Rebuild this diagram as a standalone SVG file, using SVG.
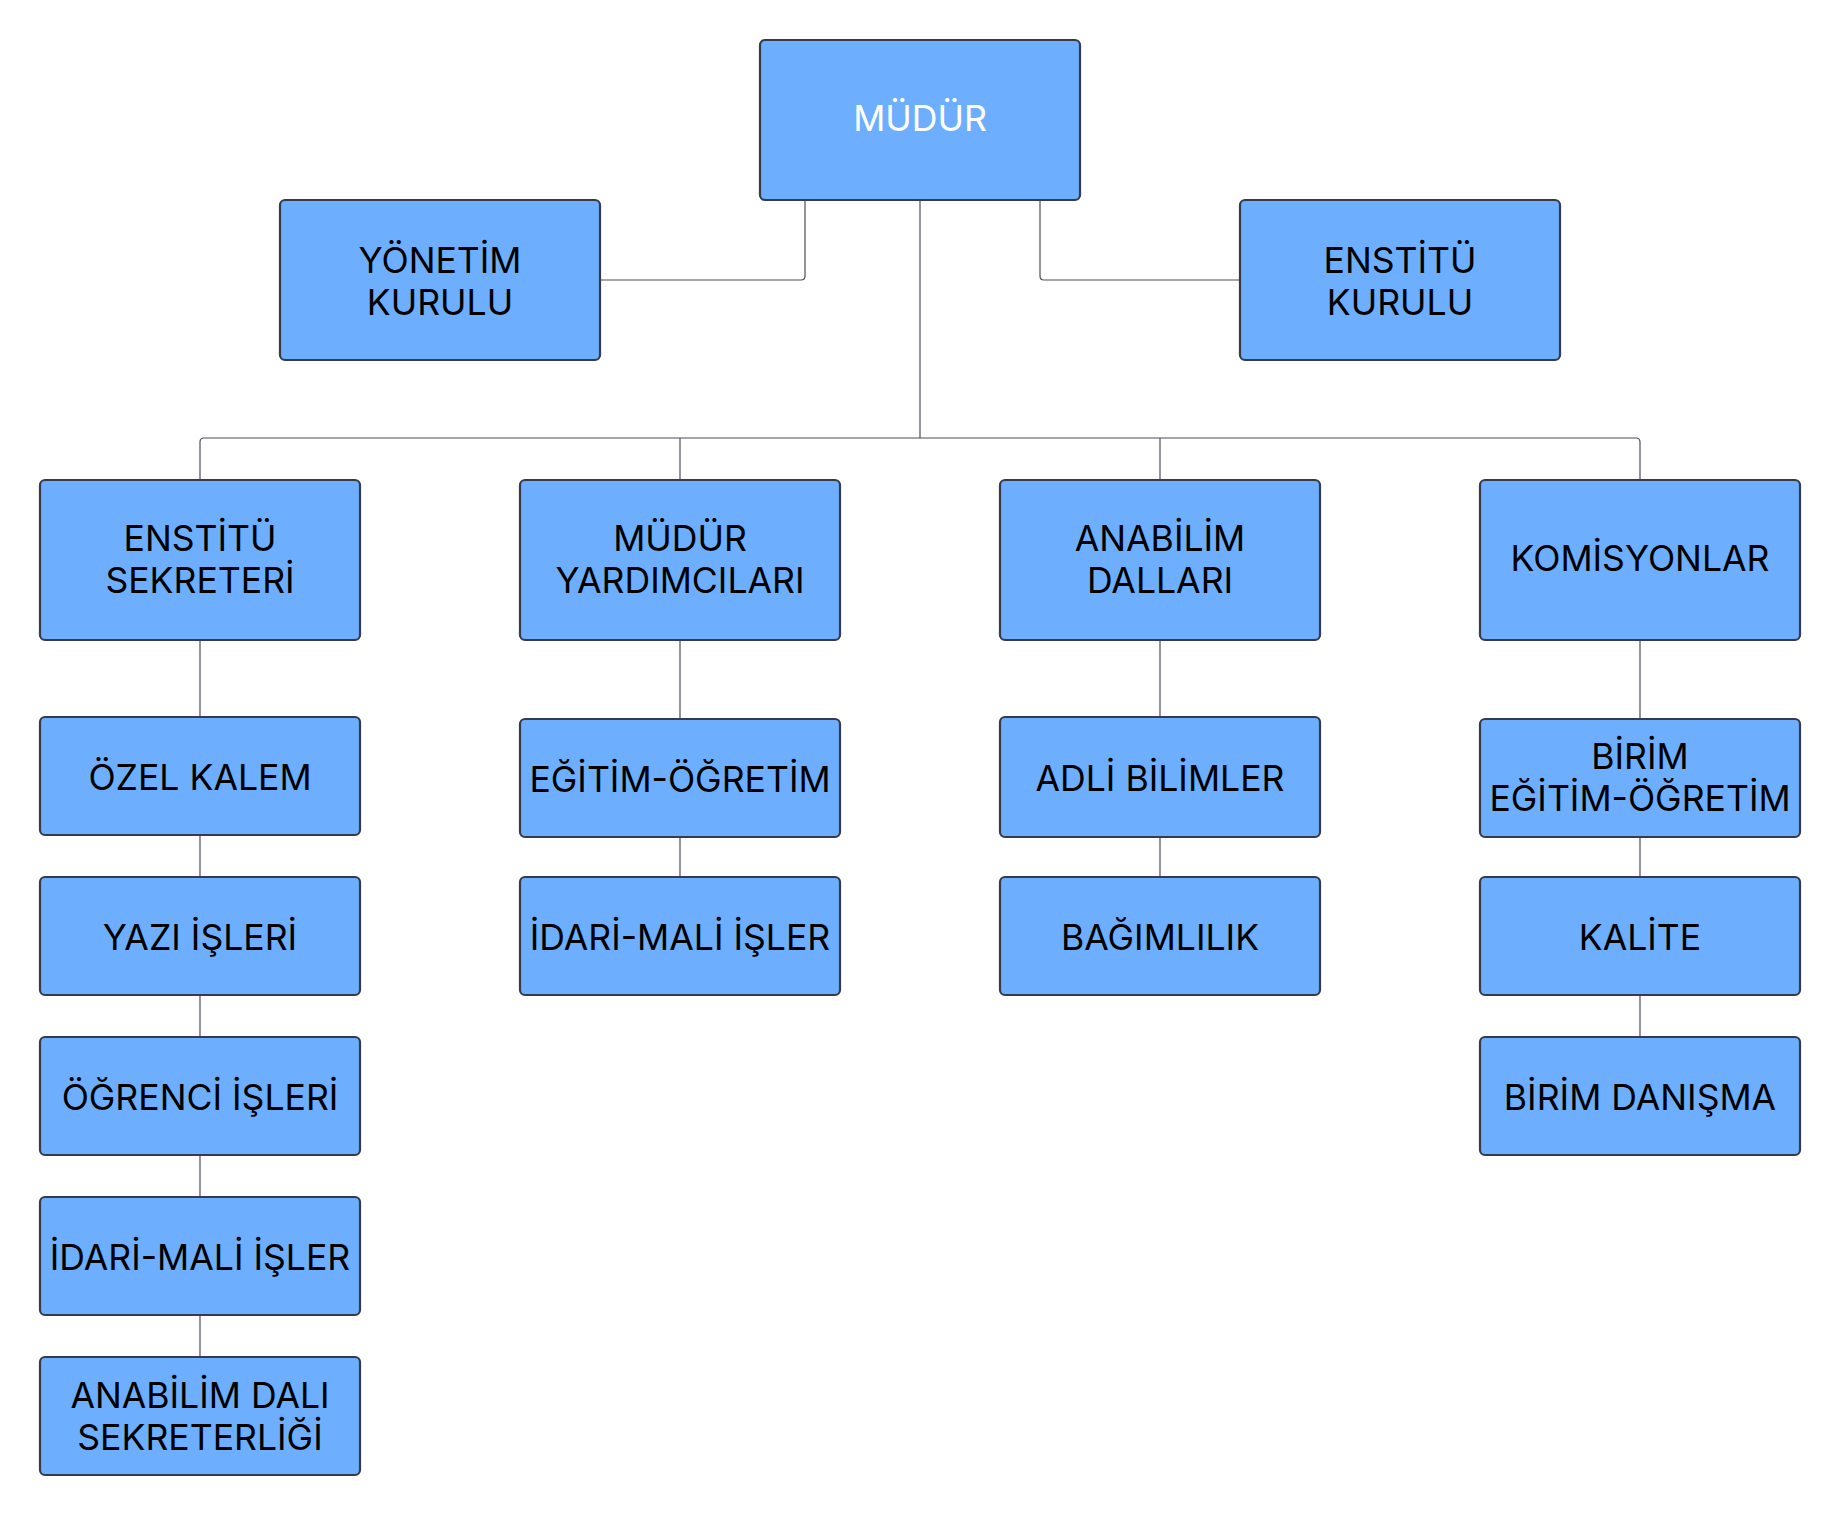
<svg xmlns="http://www.w3.org/2000/svg" width="1840" height="1515" viewBox="0 0 1840 1515">
<style>
.box{fill:#6DAFFE;stroke:#353B48;stroke-width:2.2}
.t{font-family:Inter,"Liberation Sans",sans-serif;font-size:35.6px;fill:#000;text-anchor:middle}
.w{fill:#FFFFFF}
.c{fill:none;stroke:#4A4F58;stroke-width:1.2}
</style>
<rect width="1840" height="1515" fill="#FFFFFF"/>
<g id="connectors">
<path class="c" d="M805 200V276Q805 280 801 280H600"/>
<path class="c" d="M1040 200V276Q1040 280 1044 280H1240"/>
<path class="c" d="M920 200V438"/>
<path class="c" d="M200 480V442Q200 438 204 438H1636Q1640 438 1640 442V480"/>
<path class="c" d="M680 438V480"/>
<path class="c" d="M1160 438V480"/>
<path class="c" d="M200 640V717M200 835V877M200 995V1037M200 1155V1197M200 1315V1357"/>
<path class="c" d="M680 640V719M680 837V877"/>
<path class="c" d="M1160 640V717M1160 837V877"/>
<path class="c" d="M1640 640V719M1640 837V877M1640 995V1037"/>
</g>
<g id="mudur"><rect class="box" x="760" y="40" width="320" height="160" rx="5"/><text class="t w" x="920" y="131">MÜDÜR</text></g>
<g id="yonetim-kurulu"><rect class="box" x="280" y="200" width="320" height="160" rx="5"/><text class="t" x="440" y="273">YÖNETİM</text><text class="t" x="440" y="315">KURULU</text></g>
<g id="enstitu-kurulu"><rect class="box" x="1240" y="200" width="320" height="160" rx="5"/><text class="t" x="1400" y="273">ENSTİTÜ</text><text class="t" x="1400" y="315">KURULU</text></g>
<g id="enstitu-sekreteri"><rect class="box" x="40" y="480" width="320" height="160" rx="5"/><text class="t" x="200" y="551">ENSTİTÜ</text><text class="t" x="200" y="593">SEKRETERİ</text></g>
<g id="mudur-yardimcilari"><rect class="box" x="520" y="480" width="320" height="160" rx="5"/><text class="t" x="680" y="551">MÜDÜR</text><text class="t" x="680" y="593">YARDIMCILARI</text></g>
<g id="anabilim-dallari"><rect class="box" x="1000" y="480" width="320" height="160" rx="5"/><text class="t" x="1160" y="551">ANABİLİM</text><text class="t" x="1160" y="593">DALLARI</text></g>
<g id="komisyonlar"><rect class="box" x="1480" y="480" width="320" height="160" rx="5"/><text class="t" x="1640" y="571">KOMİSYONLAR</text></g>
<g id="ozel-kalem"><rect class="box" x="40" y="717" width="320" height="118" rx="5"/><text class="t" x="200" y="790">ÖZEL KALEM</text></g>
<g id="yazi-isleri"><rect class="box" x="40" y="877" width="320" height="118" rx="5"/><text class="t" x="200" y="950">YAZI İŞLERİ</text></g>
<g id="ogrenci-isleri"><rect class="box" x="40" y="1037" width="320" height="118" rx="5"/><text class="t" x="200" y="1110">ÖĞRENCİ İŞLERİ</text></g>
<g id="idari-mali-1"><rect class="box" x="40" y="1197" width="320" height="118" rx="5"/><text class="t" x="200" y="1270">İDARİ-MALİ İŞLER</text></g>
<g id="anabilim-dali-sekreterligi"><rect class="box" x="40" y="1357" width="320" height="118" rx="5"/><text class="t" x="200" y="1408">ANABİLİM DALI</text><text class="t" x="200" y="1450">SEKRETERLİĞİ</text></g>
<g id="egitim-ogretim"><rect class="box" x="520" y="719" width="320" height="118" rx="5"/><text class="t" x="680" y="792">EĞİTİM-ÖĞRETİM</text></g>
<g id="idari-mali-2"><rect class="box" x="520" y="877" width="320" height="118" rx="5"/><text class="t" x="680" y="950">İDARİ-MALİ İŞLER</text></g>
<g id="adli-bilimler"><rect class="box" x="1000" y="717" width="320" height="120" rx="5"/><text class="t" x="1160" y="791">ADLİ BİLİMLER</text></g>
<g id="bagimlilik"><rect class="box" x="1000" y="877" width="320" height="118" rx="5"/><text class="t" x="1160" y="950">BAĞIMLILIK</text></g>
<g id="birim-egitim"><rect class="box" x="1480" y="719" width="320" height="118" rx="5"/><text class="t" x="1640" y="769">BİRİM</text><text class="t" x="1640" y="811">EĞİTİM-ÖĞRETİM</text></g>
<g id="kalite"><rect class="box" x="1480" y="877" width="320" height="118" rx="5"/><text class="t" x="1640" y="950">KALİTE</text></g>
<g id="birim-danisma"><rect class="box" x="1480" y="1037" width="320" height="118" rx="5"/><text class="t" x="1640" y="1110">BİRİM DANIŞMA</text></g>
</svg>
